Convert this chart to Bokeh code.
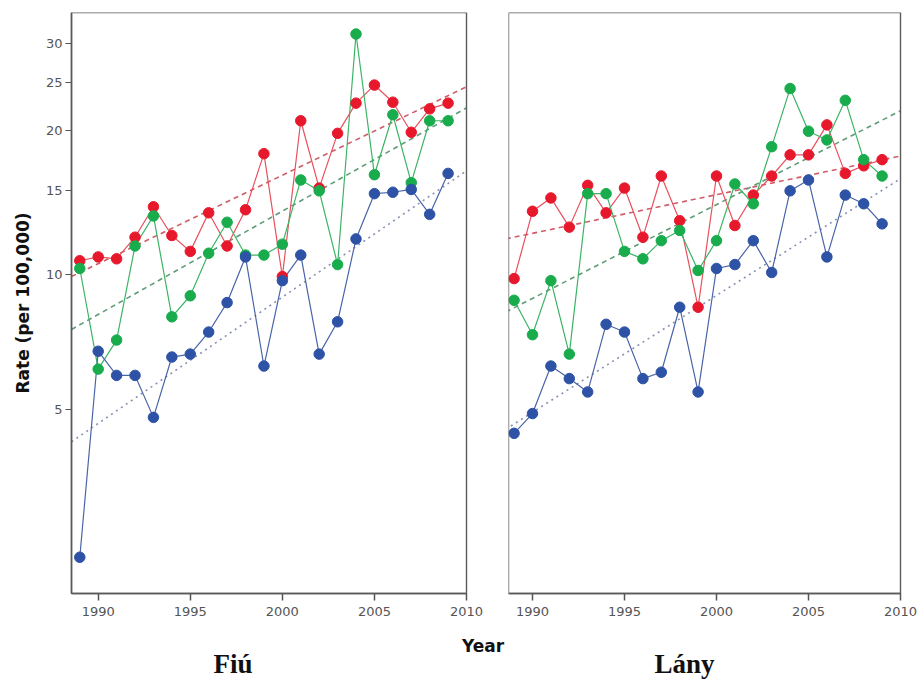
import numpy as np
from bokeh.plotting import figure
from bokeh.layouts import row
from bokeh.models import FixedTicker, CustomJSTickFormatter, Label, Range1d, BoxAnnotation
from bokeh.embed import file_html
from bokeh.resources import INLINE

# ---------------- data ----------------
years = list(range(1989, 2010))

fiu_red = [10.7, 10.9, 10.8, 12.0, 13.9, 12.1, 11.2, 13.5, 11.5, 13.7, 17.9,
           9.9, 20.9, 15.2, 19.7, 22.7, 24.7, 22.8, 19.8, 22.1, 22.7]
fiu_green = [10.3, 6.2, 7.2, 11.5, 13.3, 8.1, 9.0, 11.1, 12.9, 11.0, 11.0,
             11.6, 15.8, 15.0, 10.5, 31.3, 16.2, 21.5, 15.6, 20.9, 20.9]
fiu_blue = [2.1, 6.8, 6.0, 6.0, 4.8, 6.6, 6.7, 7.5, 8.7, 10.9, 6.3,
            9.7, 11.0, 6.7, 7.9, 11.9, 14.8, 14.9, 15.1, 13.4, 16.3]

lany_red = [9.8, 13.6, 14.5, 12.6, 15.4, 13.5, 15.2, 12.0, 16.1, 13.0, 8.5,
            16.1, 12.7, 14.7, 16.1, 17.8, 17.8, 20.5, 16.3, 16.9, 17.4]
lany_green = [8.8, 7.4, 9.7, 6.7, 14.8, 14.8, 11.2, 10.8, 11.8, 12.4, 10.2,
              11.8, 15.5, 14.1, 18.5, 24.3, 19.9, 19.1, 23.0, 17.4, 16.1]
lany_blue = [4.4, 4.9, 6.3, 5.9, 5.5, 7.8, 7.5, 5.9, 6.1, 8.5, 5.5,
             10.3, 10.5, 11.8, 10.1, 15.0, 15.8, 10.9, 14.7, 14.1, 12.8]

# fitted trend lines (values at the ends of the year axis)
trend_years = [1988.55, 2010]
fiu_trend_red = [9.9, 24.5]
fiu_trend_green = [7.6, 22.2]
fiu_trend_blue = [4.2, 16.5]
lany_trend_red = [11.9, 17.7]
lany_trend_green = [8.3, 21.9]
lany_trend_blue = [4.5, 15.9]

x_ticks = [1990, 1995, 2000, 2005, 2010]
y_ticks = [5, 10, 15, 20, 25, 30]
y_min, y_max = 1.635, 34.57

panel_titles = ["Fiú", "Lány"]
x_title = "Year"
y_title = "Rate (per 100,000)"

# ---------------- styling ----------------
RED, GREEN, BLUE = "#e8182c", "#18ac4c", "#2d52a6"
RED_L, GREEN_L, BLUE_L = "#e8505e", "#3cb466", "#4a64a8"
RED_T, GREEN_T, BLUE_T = "#cf5d68", "#5f9c78", "#8790b4"

PLOT_H = 581          # height of the plotting box in pixels
BELOW = 87            # room under the box for axis labels and titles


def t(v):
    return np.log10(np.asarray(v, dtype=float) + 1.0)


Y0, Y1 = float(t(y_min)), float(t(y_max))
YPX = (Y1 - Y0) / PLOT_H


def make_panel(width, b_left, x_start, x_lo, x_hi, show_y, series, trends):
    p = figure(width=width, height=680, output_backend="svg", toolbar_location=None,
               x_range=Range1d(x_lo, x_hi),
               y_range=Range1d(Y0 - BELOW * YPX, Y1),
               min_border_left=b_left, min_border_right=0,
               min_border_top=12, min_border_bottom=0,
               y_axis_location="left" if show_y else None)
    p.xgrid.visible = False
    p.ygrid.visible = False
    p.outline_line_color = None
    p.background_fill_color = "white"
    p.border_fill_color = "white"

    # the box of the panel
    p.add_layout(BoxAnnotation(left=x_start, right=2010, bottom=Y0, top=Y1,
                               fill_color=None, fill_alpha=0,
                               line_color="#5a5a5a", line_alpha=1.0, line_width=1.4))

    xa = p.xaxis[0]
    xa.fixed_location = Y0
    xa.bounds = (x_start, 2010)
    xa.ticker = FixedTicker(ticks=x_ticks)
    xa.minor_tick_line_color = None
    xa.major_tick_out = 7
    xa.major_tick_in = 0
    xa.axis_line_color = "#555555"
    xa.axis_line_width = 1.5
    xa.major_tick_line_color = "#555555"
    xa.major_tick_line_width = 1.5
    xa.major_label_text_font = "DejaVu Sans"
    xa.major_label_text_font_size = "13px"
    xa.major_label_text_color = "#555555"
    xa.major_label_standoff = 6

    if show_y:
        ya = p.yaxis[0]
        ya.fixed_location = x_start
        ya.bounds = (Y0, Y1)
        ya.ticker = FixedTicker(ticks=list(t(y_ticks)))
        ya.formatter = CustomJSTickFormatter(code="return String(Math.round(Math.pow(10, tick) - 1));")
        ya.minor_tick_line_color = None
        ya.major_tick_out = 6
        ya.major_tick_in = 0
        ya.axis_line_color = "#555555"
        ya.axis_line_width = 1.5
        ya.major_tick_line_color = "#555555"
        ya.major_label_text_font = "DejaVu Sans"
        ya.major_label_text_font_size = "13px"
        ya.major_label_text_color = "#555555"
        ya.major_label_standoff = 3

    (tr, tg, tb) = trends
    p.line(trend_years, t(tr), line_color=RED_T, line_width=1.6, line_dash="5 4")
    p.line(trend_years, t(tg), line_color=GREEN_T, line_width=1.6, line_dash="5 4")
    p.line(trend_years, t(tb), line_color=BLUE_T, line_width=1.6, line_dash="2 4")

    (sr, sg, sb) = series
    p.line(years, t(sr), line_color=RED_L, line_width=1.2)
    p.line(years, t(sg), line_color=GREEN_L, line_width=1.2)
    p.line(years, t(sb), line_color=BLUE_L, line_width=1.2)
    p.scatter(years, t(sr), size=10.5, fill_color=RED, line_color=RED)
    p.scatter(years, t(sg), size=10.5, fill_color=GREEN, line_color=GREEN)
    p.scatter(years, t(sb), size=10.5, fill_color=BLUE, line_color=BLUE)
    return p


# left panel: box at 71..466 px of a 507 px wide canvas
L_START = 1988.55
L_XPX = 395 / (2010 - L_START)
left = make_panel(507, 0, L_START, L_START - 71 / L_XPX, L_START + 436 / L_XPX, True,
                  (fiu_red, fiu_green, fiu_blue),
                  (fiu_trend_red, fiu_trend_green, fiu_trend_blue))

# right panel: box at 508..900 px of the page (canvas starts at 507)
R_START = 1988.696
R_XPX = 392 / (2010 - R_START)
right = make_panel(413, 1, R_START, R_START, R_START + 412 / R_XPX, False,
                   (lany_red, lany_green, lany_blue),
                   (lany_trend_red, lany_trend_green, lany_trend_blue))

title_style = dict(text_align="center", text_baseline="middle",
                   text_font="Liberation Serif", text_font_size="27px",
                   text_font_style="bold", text_color="#111111")
left.add_layout(Label(x=1997.32, y=Y0 - 70 * YPX, text=panel_titles[0], **title_style))
right.add_layout(Label(x=1998.26, y=Y0 - 70 * YPX, text=panel_titles[1], **title_style))
left.add_layout(Label(x=2010.9, y=Y0 - 52 * YPX, text=x_title,
                      text_align="center", text_baseline="middle",
                      text_font="DejaVu Sans", text_font_size="17px",
                      text_font_style="bold", text_color="#111111"))
left.add_layout(Label(x=L_START - 49 / L_XPX, y=(Y0 + Y1) / 2, text=y_title,
                      angle=np.pi / 2, text_align="center", text_baseline="middle",
                      text_font="DejaVu Sans", text_font_size="17px",
                      text_font_style="bold", text_color="#111111"))

layout = row(left, right)
open("out.html", "w").write(file_html(layout, INLINE))
